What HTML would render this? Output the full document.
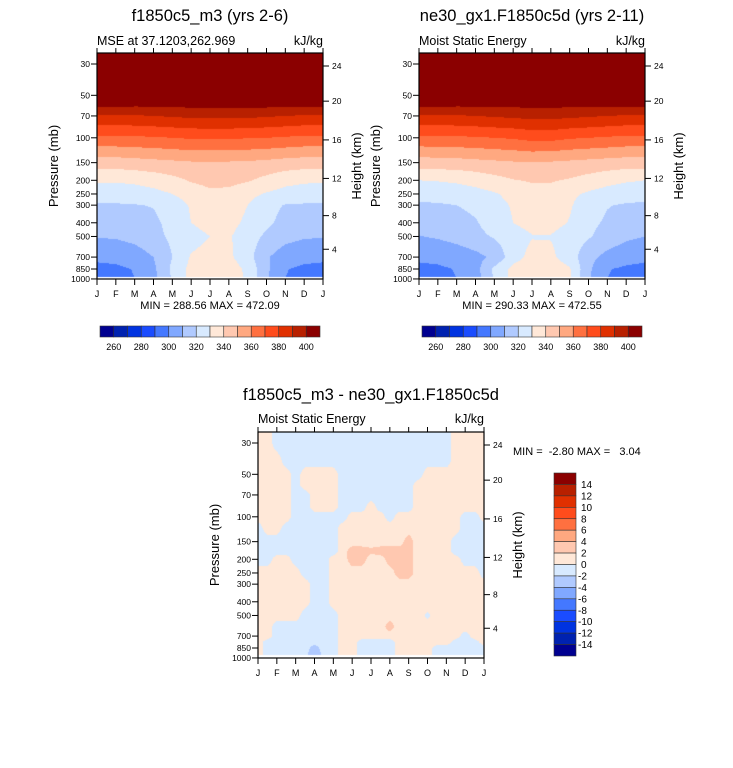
<!DOCTYPE html>
<html><head><meta charset="utf-8"><style>
body{margin:0;background:#fff;width:733px;height:768px;overflow:hidden;position:relative;font-family:"Liberation Sans",sans-serif}
canvas{position:absolute}
svg{position:absolute;left:0;top:0}
</style></head><body>
<canvas id="c1" width="733" height="768" style="left:0;top:0"></canvas>
<svg id="s" width="733" height="768" font-family="Liberation Sans, sans-serif"></svg>
<script>
// ---- data ----
const levels = [30,50,70,100,150,200,250,300,400,500,700,850,1000];
const months = ['J','F','M','A','M','J','J','A','S','O','N','D','J'];
const mse1 = [
[430,429,428,427,426,425,425,425,426,427,428,429,430],
[415,414,413,412,412,412,412,412,412,413,414,415,415],
[389,389,389,390,391,392,392.5,392.5,392,391,390,389,389],
[368,368,368.5,369,370,371,371,371,370.5,370,369,368,368],
[344.5,345,346,347,348,349,349,349,348.5,347.5,346,345,344.5],
[331,331,332,334,337,341,343,343,341,337,333,331.5,331],
[325,325,325.5,327,330,334,338,337,333,329,326.5,325.5,325],
[318.6,319,319.5,320.5,325,331,336,335,330,323,319.5,319,318.6],
[313.8,314,315,318,323,330,334,333,328,322,317,314.5,313.8],
[310.5,311,313,317,322,326,330,331,325,318,313,311,310.5],
[302.3,303,305,310,320,331,334,332,324,311,305,303,302.3],
[297,298,300.5,308,322,333,336,335,328,312,300.5,298,297],
[296,297,300,307,321,333,337,336,328,311,300,297,296]];
const mse2 = [
[430,429,428,427,426,425,425,425,426,427,428,429,430],
[415,414,413,412,411,411,411,411,411,412,413,414,415],
[389,389,389,390,391,392,393,393,392,391,390,389,389],
[368,368,368.5,369,370,371,373,373,371,370,369,368,368],
[345,345.5,346,347,348,349,349.5,349,348,347,346,345,345],
[330,330.5,331.5,333.5,336.5,339.5,341,341,339,336,333,331,330],
[324,324,325,326.5,329,333,336,335.5,332,328.5,326,324.5,324],
[318.3,319,320,322.5,326.5,331,334,334,331,325,320.5,319,318.3],
[313.3,314,316,319,325,330,333,333,329.5,322.5,318.5,315,313.3],
[309.7,311,313.5,317,321,326,329.5,329.5,326,321,316,312,310],
[302,302.5,304,307,312,326,333,332,325,313,307,303.5,302],
[297.5,298.5,300.5,306,322,333,336,336,331,312,300.5,298.5,297.5],
[297,298,300,305.5,321,333,337,337,331,311,300,298,297]];
const diffLevels = [25,30,40,50,60,70,85,100,120,150,175,200,250,300,350,400,500,600,700,775,850,925,1000];
const diffMonths = [0,0.5,1,1.5,2,2.5,3,3.5,4,4.5,5,5.5,6,6.5,7,7.5,8,8.5,9,9.5,10,10.5,11,11.5,12];
const diff = [
[1,1,-1,-1,-1,-1,-1,-1,-1,-1,-1,-1,-1,-1,-1,-1,-1,-1,-1,-1,-1,1,1,1,1],
[1,1,-1,-1,-1,-1,-1,-1,-1,-1,-1,-1,-1,-1,-1,-1,-1,-1,-1,-1,-1,1,1,1,1],
[1,1,1,-1,-1,-1,-1,-1,-1,-1,-1,-1,-1,-1,-1,-1,-1,-1,-1,-1,-1,1,1,1,1],
[1,1,1,1,-1,1,1,1,1,-1,-1,-1,-1,-1,-1,-1,-1,-1,1,1,1,1,1,1,1],
[1,1,1,1,-1,1,1,1,1,-1,-1,-1,-1,-1,-1,-1,-1,1,1,1,1,1,1,1,1],
[1,1,1,1,-1,-1,1,1,1,-1,-1,-1,-1,-1,-1,-1,-1,1,1,1,1,1,1,1,1],
[1,1,1,1,-1,-1,1,1,1,-1,-1,-1,1,-1,-1,-1,-1,1,1,1,1,1,1,1,1],
[1,1,1,1,-1,-1,-1,-1,-1,-1,1,1,1,1,-1,1,1,1,1,1,1,1,-1,-1,1],
[-1,1,1,-1,-1,-1,-1,-1,-1,1,1,1,1,1,1,1,1,1,1,1,1,1,-1,-1,-1],
[-1,-1,-1,-1,-1,-1,-1,-1,-1,1,1,1,1,1,1,1,3,1,1,1,1,-1,-1,-1,-1],
[-1,-1,-1,-1,-1,-1,-1,-1,-1,1,3,3,2.5,3,3,3,3,1,1,1,1,-1,-1,-1,-1],
[-1,-1,1,1,-1,-1,-1,-1,1,1,3,3,1,1,3,3,3,1,1,1,1,1,-1,-1,-1],
[1,1,1,1,1,-1,-1,-1,1,1,1,1,1,1,1,3,3,1,1,1,1,1,1,1,-1],
[1,1,1,1,1,1,-1,-1,1,1,1,1,1,1,1,1,1,1,1,1,1,1,1,1,1],
[1,1,1,1,1,1,-1,-1,1,1,1,1,1,1,1,1,1,1,1,1,1,1,1,1,1],
[1,1,1,1,1,1,-1,-1,1,1,1,1,1,1,1,1,1,1,1,1,1,1,1,1,1],
[1,1,1,1,1,-1,-1,-1,-1,1,1,1,1,1,1,1,1,1,-0.4,1,1,1,1,1,1],
[1,1,-1,-1,-1,-1,-1,-1,-1,1,1,1,1,1,3,1,1,1,1,1,1,1,1,1,1],
[1,1,-1,-1,-1,-1,-1,-1,-1,1,1,1,1,1,1,1,1,1,1,1,1,1,-1,1,1],
[1,-1,-1,-1,-1,-1,-1,-1,-1,1,1,-1,-1,-1,-1,1,1,1,1,1,1,-1,-1,-1,1],
[1,-1,-1,-1,-1,-1,-3,-1,-1,1,1,-1,-1,-1,-1,1,1,1,1,-1,-1,-1,-1,-1,-1],
[1,-1,-1,-1,-1,-1.5,-3,-1.5,-1,1,1,-1,-1,-1,-1,1,1,1,1,-1,-1,-1,-1,-1,-1],
[1,-1,-1,-1,-1,-1.5,-3,-1.5,-1,1,1,-1,-1,-1,-1,1,1,1,1,-1,-1,-1,-1,-1,-1]];
const pLabels = [30,50,70,100,150,200,250,300,400,500,700,850,1000];
const hLabels = [24,20,16,12,8,4];
const hPress = [31,55,103.5,194,356,616];
const mseCbLabels = [260,280,300,320,340,360,380,400];
const diffCbLabels = [14,12,10,8,6,4,2,0,-2,-4,-6,-8,-10,-12,-14];
const colors = ['#000090','#0022b0','#0033e0','#1a4cff','#4478ff','#80a8ff','#b0caff','#d8eaff','#ffe8d8','#ffc8b0','#ffa880','#ff7040','#ff4c1c','#e03000','#b82000','#8b0000'];

// ---- rendering ----
const S = 61.3;
const panels = [
 {x0:97,x1:323,yTop:53,yBot:279,y30:64,dataBot:277,data:mse1,lev:levels,cols:months.map((m,i)=>i),cls:v=>Math.floor((v-250)/10)},
 {x0:419,x1:645,yTop:53,yBot:279,y30:64,dataBot:277,data:mse2,lev:levels,cols:months.map((m,i)=>i),cls:v=>Math.floor((v-250)/10)},
 {x0:258,x1:484,yTop:432,yBot:658,y30:443,dataBot:655,data:diff,lev:diffLevels,cols:diffMonths,cls:v=>Math.floor((v+16)/2)}];
const rgb = colors.map(c=>[parseInt(c.substr(1,2),16),parseInt(c.substr(3,2),16),parseInt(c.substr(5,2),16)]);
const ctx = document.getElementById('c1').getContext('2d');
const img = ctx.createImageData(733,768);
for(let q=0;q<768*733*4;q++) img.data[q]=255;
function interpIdx(arr,v){
  if(v<=arr[0]) return 0;
  for(let k=0;k<arr.length-1;k++){ if(v<=arr[k+1]) return k+(v-arr[k])/(arr[k+1]-arr[k]); }
  return arr.length-1;
}
panels.forEach(P=>{
  const lnLev = P.lev.map(Math.log);
  const w = P.x1-P.x0;
  for(let y=P.yTop;y<P.dataBot;y++){
    const lp = Math.log(30)+(y+0.5-P.y30)/S;
    const r = interpIdx(lnLev,lp); const r0=Math.min(Math.floor(r),P.lev.length-2), fr=Math.min(1,r-r0);
    for(let x=P.x0;x<P.x1;x++){
      const m=(x+0.5-P.x0)/w*12;
      const c=interpIdx(P.cols,m); const c0=Math.min(Math.floor(c),P.cols.length-2), fc=Math.min(1,c-c0);
      const d=P.data;
      const v=(d[r0][c0]*(1-fc)+d[r0][c0+1]*fc)*(1-fr)+(d[r0+1][c0]*(1-fc)+d[r0+1][c0+1]*fc)*fr;
      let k=Math.max(0,Math.min(15,P.cls(v)));
      const o=(y*733+x)*4; img.data[o]=rgb[k][0];img.data[o+1]=rgb[k][1];img.data[o+2]=rgb[k][2];
    }
  }
});
ctx.putImageData(img,0,0);

const svg=document.getElementById('s');
const NS='http://www.w3.org/2000/svg';
function el(tag,attrs,txt){const e=document.createElementNS(NS,tag);for(const k in attrs)e.setAttribute(k,attrs[k]);if(txt!==undefined)e.textContent=txt;svg.appendChild(e);return e;}
const yOf=(P,p)=>P.y30+S*Math.log(p/30);
const names=['top-left','top-right','bottom'];
panels.forEach((P,pi)=>{
  const n=names[pi];
  let f=el('rect',{x:P.x0,y:P.yTop,width:P.x1-P.x0,height:P.yBot-P.yTop,fill:'none',stroke:'#000','stroke-width':1.2});
  
  
  months.forEach((m,i)=>{
    const x=P.x0+(P.x1-P.x0)*i/12;
    let t=el('line',{x1:x,x2:x,y1:P.yTop-5,y2:P.yTop,stroke:'#000'});
    
    
    let b=el('line',{x1:x,x2:x,y1:P.yBot,y2:P.yBot+6,stroke:'#000'});
    
    
    let l=el('text',{x:x,y:P.yBot+18,'font-size':9,'text-anchor':'middle'},m);
    
    
  });
  pLabels.forEach(p=>{
    const y=yOf(P,p);
    let t=el('line',{x1:P.x0-6,x2:P.x0,y1:y,y2:y,stroke:'#000'});
    
    
    let l=el('text',{x:P.x0-7,y:y+3,'font-size':8.5,'text-anchor':'end'},p);
    
    
  });
  hLabels.forEach((h,i)=>{
    const y=yOf(P,hPress[i]);
    let t=el('line',{x1:P.x1,x2:P.x1+6,y1:y,y2:y,stroke:'#000'});
    
    
    let l=el('text',{x:P.x1+9,y:y+3,'font-size':8.5},h);
    
    
  });
  const cy=(P.yTop+P.yBot)/2;
  let ya=el('text',{x:0,y:0,'font-size':13,'text-anchor':'middle',transform:`translate(${P.x0-39},${cy}) rotate(-90)`},'Pressure (mb)');
  
  
  let yb=el('text',{x:0,y:0,'font-size':13,'text-anchor':'middle',transform:`translate(${P.x1+38},${cy}) rotate(-90)`},'Height (km)');
  
  
});
function txt(name,x,y,size,s,anchor){let t=el('text',{x:x,y:y,'font-size':size,'text-anchor':anchor||'start','xml:space':'preserve',style:'white-space:pre'},s);}
txt('left-title',210,21,16.5,'f1850c5_m3 (yrs 2-6)','middle');
txt('left-subtitle',97,45,12.5,'MSE at 37.1203,262.969');
txt('left-units',323,45,12.5,'kJ/kg','end');
txt('left-minmax',210,309,11,'MIN = 288.56 MAX = 472.09','middle');
txt('right-title',532,21,16.5,'ne30_gx1.F1850c5d (yrs 2-11)','middle');
txt('right-subtitle',419,45,12.5,'Moist Static Energy');
txt('right-units',645,45,12.5,'kJ/kg','end');
txt('right-minmax',532,309,11,'MIN = 290.33 MAX = 472.55','middle');
txt('diff-title',371,400,16.5,'f1850c5_m3 - ne30_gx1.F1850c5d','middle');
txt('diff-subtitle',258,423,12.5,'Moist Static Energy');
txt('diff-units',484,423,12.5,'kJ/kg','end');
txt('diff-minmax',513,455,11,'MIN =  -2.80 MAX =   3.04');
[100,422].forEach((x0,ci)=>{
  const bw=220/16;
  colors.forEach((c,k)=>{
    let r=el('rect',{x:x0+k*bw,y:326,width:bw,height:11,fill:c,stroke:'#333','stroke-width':0.6});
    
    
  });
  mseCbLabels.forEach((v,j)=>{
    const x=x0+(v-250)/10*bw;
    let t=el('text',{x:x,y:350,'font-size':9,'text-anchor':'middle'},v);
    
    
  });
});
const bh=(656-473)/16;
colors.slice().reverse().forEach((c,k)=>{
  let r=el('rect',{x:554,y:473+k*bh,width:22,height:bh,fill:c,stroke:'#333','stroke-width':0.6});
  
  
});
diffCbLabels.forEach(v=>{
  const y=473+(14-v)/2*bh+bh;
  let t=el('text',{x:v<0?578:581,y:y+3.5,'font-size':10},v);
  
  
});
</script>
</body></html>
